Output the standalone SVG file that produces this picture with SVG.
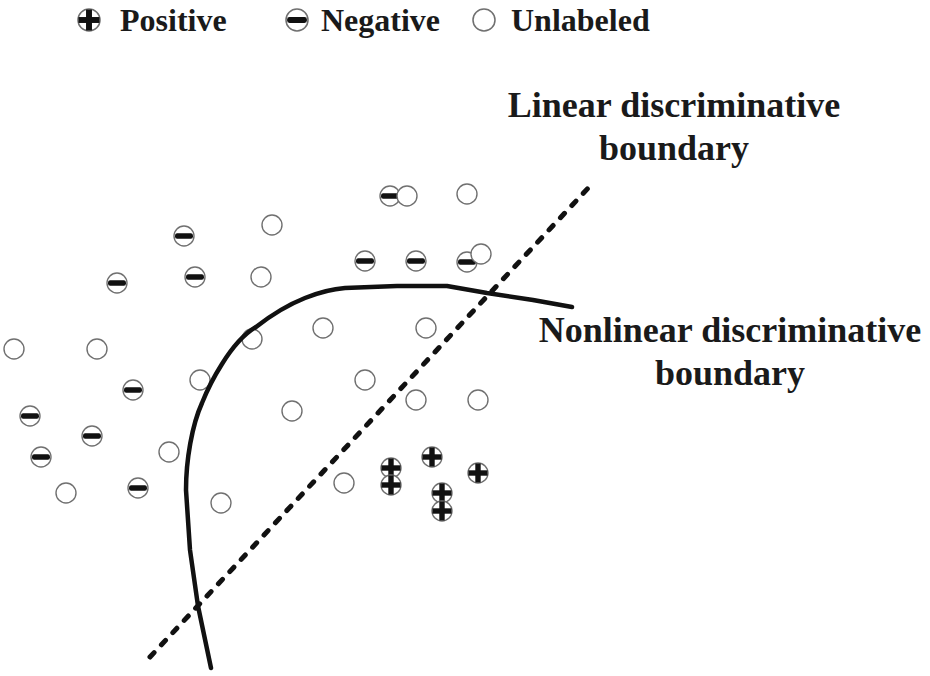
<svg xmlns="http://www.w3.org/2000/svg" xmlns:xlink="http://www.w3.org/1999/xlink" width="930" height="676" viewBox="0 0 930 676">
<style>
.ring{fill:#fff;stroke:#707070;stroke-width:1.4}
.mark{fill:#111}
.lbl{font-family:"Liberation Serif","Times New Roman",serif;font-weight:bold;fill:#1a1a1a}
.leg{font-size:32px}
.big{font-size:36px}
.curve{fill:none;stroke:#111;stroke-width:4.5;stroke-linejoin:round;stroke-linecap:round}
.dash{fill:none;stroke:#111;stroke-width:5;stroke-linecap:round;stroke-dasharray:6 10.7}
</style>
<defs>
<g id="u"><circle class="ring" r="10"/></g>
<g id="m"><circle class="ring" r="10"/><rect class="mark" x="-9" y="-2.7" width="18" height="5.4" rx="2.2"/></g>
<g id="p"><circle class="ring" r="10"/><rect class="mark" x="-9.5" y="-2.7" width="19" height="5.4"/><rect class="mark" x="-2.7" y="-9.5" width="5.4" height="19"/></g>
</defs>
<rect width="930" height="676" fill="#fff"/>
<g id="legend">
<g id="leg-pos"><use xlink:href="#p" href="#p" transform="translate(89,20) scale(1.1)"/><text class="lbl leg" x="120" y="31">Positive</text></g>
<g id="leg-neg"><use xlink:href="#m" href="#m" transform="translate(297,20) scale(1.1)"/><text class="lbl leg" x="321" y="31">Negative</text></g>
<g id="leg-unl"><use xlink:href="#u" href="#u" transform="translate(484,20) scale(1.1)"/><text class="lbl leg" x="511" y="31">Unlabeled</text></g>
</g>
<g id="negatives">
<use id="n1" href="#m" x="184" y="236"/>
<use id="n2" href="#m" x="117" y="283"/>
<use id="n3" href="#m" x="195" y="277"/>
<use id="n4" href="#m" x="133" y="390"/>
<use id="n5" href="#m" x="30" y="416"/>
<use id="n6" href="#m" x="92" y="436"/>
<use id="n7" href="#m" x="41" y="457"/>
<use id="n8" href="#m" x="138" y="488"/>
<use id="n9" href="#m" x="390" y="196"/>
<use id="n10" href="#m" x="365" y="261"/>
<use id="n11" href="#m" x="416" y="261"/>
<use id="n12" href="#m" x="467" y="262"/>
</g>
<g id="unlabeled">
<use id="u1" href="#u" x="272" y="225"/>
<use id="u2" href="#u" x="261" y="277"/>
<use id="u3" href="#u" x="14" y="349"/>
<use id="u4" href="#u" x="97" y="349"/>
<use id="u5" href="#u" x="252" y="339"/>
<use id="u6" href="#u" x="200" y="380"/>
<use id="u7" href="#u" x="292" y="411"/>
<use id="u8" href="#u" x="169" y="452"/>
<use id="u9" href="#u" x="66" y="493"/>
<use id="u10" href="#u" x="221" y="503"/>
<use id="u11" href="#u" x="407" y="196"/>
<use id="u12" href="#u" x="467" y="194"/>
<use id="u13" href="#u" x="481" y="254"/>
<use id="u14" href="#u" x="323" y="328"/>
<use id="u15" href="#u" x="426" y="328"/>
<use id="u16" href="#u" x="365" y="380"/>
<use id="u17" href="#u" x="416" y="400"/>
<use id="u18" href="#u" x="478" y="400"/>
<use id="u19" href="#u" x="344" y="483"/>
</g>
<g id="positives">
<use id="p1" href="#p" x="391" y="468"/>
<use id="p2" href="#p" x="391" y="485"/>
<use id="p3" href="#p" x="432" y="457"/>
<use id="p4" href="#p" x="478" y="473"/>
<use id="p5" href="#p" x="442" y="493"/>
<use id="p6" href="#p" x="442" y="511"/>
</g>
<g id="connectors">
<path id="nonlinear-boundary" class="curve" d="M211,668 L198,606 L190,550 L186,490 C186,460 192,425 202,403 C208,388 215,375 222,364 C232,348 244,334 256,327 C270,316 285,306 305,298 C320,292 332,289 345,288 L397,286 L447,286 L487,293 L533,300 L572,307"/>
<line id="linear-boundary" class="dash" x1="150" y1="657" x2="591" y2="185"/>
</g>
<g id="label-linear">
<text class="lbl big" x="674" y="117" text-anchor="middle">Linear discriminative</text>
<text class="lbl big" x="674" y="160" text-anchor="middle">boundary</text>
</g>
<g id="label-nonlinear">
<text class="lbl big" x="730" y="342" text-anchor="middle">Nonlinear discriminative</text>
<text class="lbl big" x="730" y="385" text-anchor="middle">boundary</text>
</g>
</svg>
